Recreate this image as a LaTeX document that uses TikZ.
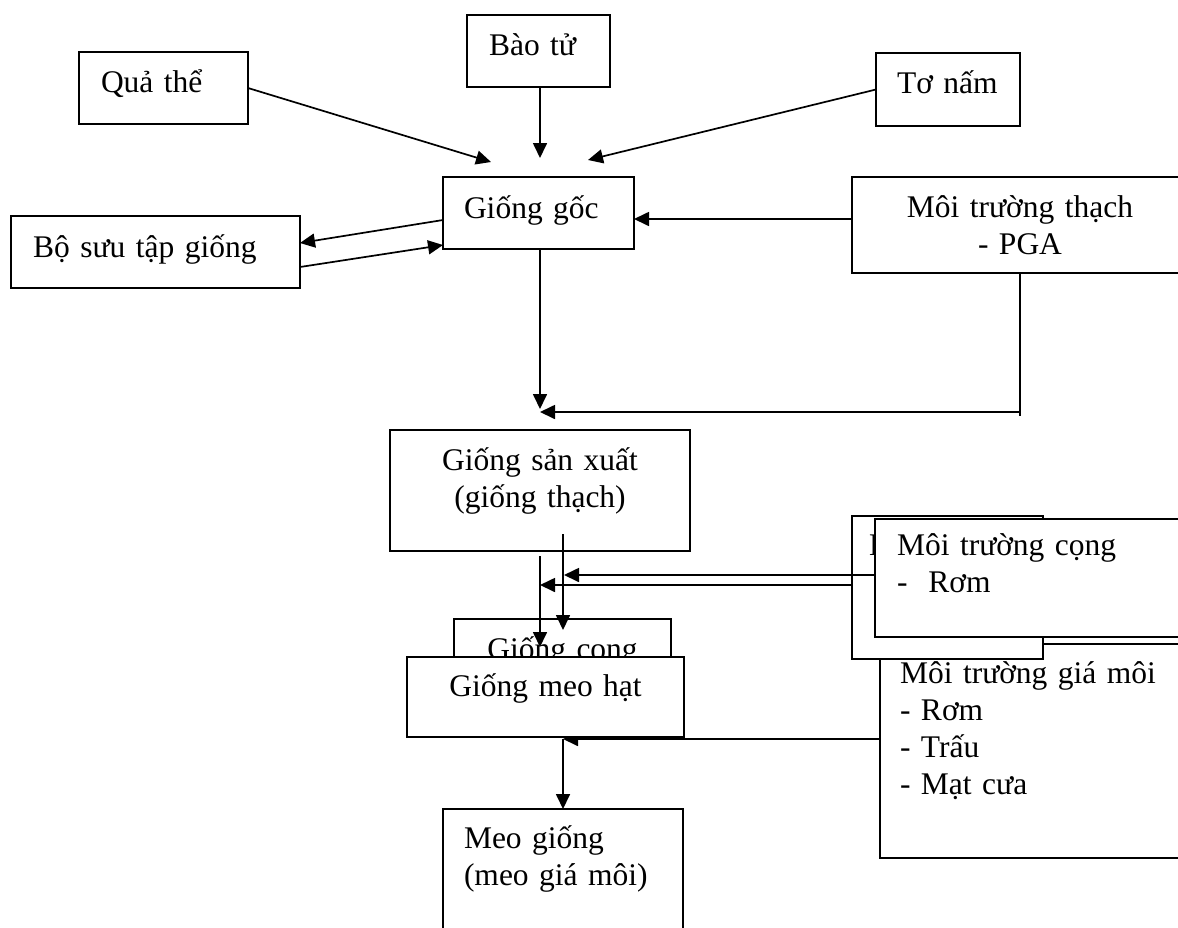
\documentclass[tikz,border=0pt]{standalone}
\usepackage{fontspec}
\setmainfont{Liberation Serif}
\usetikzlibrary{arrows.meta}
\begin{document}
\begin{tikzpicture}[x=1pt,y=-1pt,
  wbox/.style={draw, fill=white, line width=1.8pt, anchor=north west,
    inner ysep=0pt, outer sep=0pt, font=\fontsize{31.5}{37}\selectfont},
  lbox/.style={wbox, align=left},
  cbox/.style={wbox, align=center},
  arr/.style={line width=1.7pt, -{Triangle[length=15pt,width=14pt]}},
  plain/.style={line width=1.7pt}]
\useasboundingbox (0,0) rectangle (1178,927);

% sources of the mother culture
\node[lbox, inner xsep=22pt, text width=125pt, text height=40pt, text depth=32pt] (qua) at (79,52) {Quả thể};
\node[lbox, inner xsep=22pt, text width=99pt, text height=40pt, text depth=32pt] (baotu) at (467,15) {Bào tử};
\node[lbox, inner xsep=21pt, text width=102pt, text height=40pt, text depth=33pt] (tonam) at (876,53) {Tơ nấm};
\node[lbox, inner xsep=21pt, text width=149pt, text height=41pt, text depth=31pt] (goc) at (443,177) {Giống gốc};
\node[lbox, inner xsep=22pt, text width=245pt, text height=41pt, text depth=31pt] (bst) at (11,216) {Bộ sưu tập giống};
\node[cbox, inner xsep=10pt, text width=316pt, text height=40pt, text depth=56pt] (thach) at (852,177) {Môi trường thạch\\- PGA};

% arrow tips and helper levels
\coordinate (tipQ) at (491,162);
\coordinate (tipB) at (540,158);
\coordinate (tipT) at (588,160);
\coordinate (tipG) at (540,409);
\coordinate (tipP) at (540,412);
\coordinate (bendT) at (1020,416);
\coordinate (lvOutA) at (0,220);
\coordinate (lvOutB) at (0,243);
\coordinate (lvInA) at (0,267);
\coordinate (lvInB) at (0,245);
\coordinate (lvThach) at (0,219);

\draw[arr] (qua.east) -- (tipQ);
\draw[arr] (baotu.south -| tipB) -- (tipB);
\draw[arr] (tonam.west) -- (tipT);
\draw[arr] (goc.west |- lvOutA) -- (bst.east |- lvOutB);
\draw[arr] (bst.east |- lvInA) -- (goc.west |- lvInB);
\draw[arr] (thach.west |- lvThach) -- (goc.east |- lvThach);
\draw[arr] (goc.south -| tipG) -- (tipG);
\draw[plain] (thach.south) -- (bendT);
\draw[arr] (bendT |- tipP) -- (tipP);

% production spawn and stalk spawn
\node[cbox, inner xsep=10pt, text width=280pt, text height=40pt, text depth=81pt] (sx) at (390,430) {Giống sản xuất\\(giống thạch)};
\node[cbox, inner xsep=10pt, text width=197pt, text height=40pt, text depth=32pt] (cong) at (454,619) {Giống cọng};

\coordinate (srcS1) at ([yshift=-5pt]sx.south);
\coordinate (srcS2) at ([xshift=23pt,yshift=17pt]sx.south);
\coordinate (tipS1) at (540,647);
\coordinate (tipS2) at (563,630);
\draw[arr] (srcS1) -- (tipS1);
\draw[arr] (srcS2) -- (tipS2);

% substrates
\node[lbox, inner xsep=20pt, text width=270pt, text height=39pt, text depth=175pt] (giamoi) at (880,644) {Môi trường giá môi\\- Rơm\\- Trấu\\- Mạt cưa};
\node[lbox, inner xsep=17pt, text width=157pt, text height=39pt, text depth=104pt] (cong2) at (852,516) {M};
\node[lbox, inner xsep=22pt, text width=271pt, text height=36pt, text depth=82pt] (cong1) at (875,519) {Môi trường cọng\\-~~Rơm};

\coordinate (tipJ) at (564,575);
\coordinate (tipK) at (540,585);
\coordinate (tipL) at (563,739);
\draw[arr] (cong1.west |- tipJ) -- (tipJ);
\draw[arr] (cong2.west |- tipK) -- (tipK);
\draw[arr] (giamoi.west |- tipL) -- (tipL);

% grain spawn and final spawn
\node[cbox, inner xsep=10pt, text width=257pt, text height=39pt, text depth=41pt] (meohat) at (407,657) {Giống meo hạt};
\node[lbox, inner xsep=21pt, text width=198pt, text height=39pt, text depth=101pt] (meogiong) at (443,809) {Meo giống\\(meo giá môi)};
\draw[arr] (tipL) -- (meogiong.north);
\end{tikzpicture}
\end{document}
